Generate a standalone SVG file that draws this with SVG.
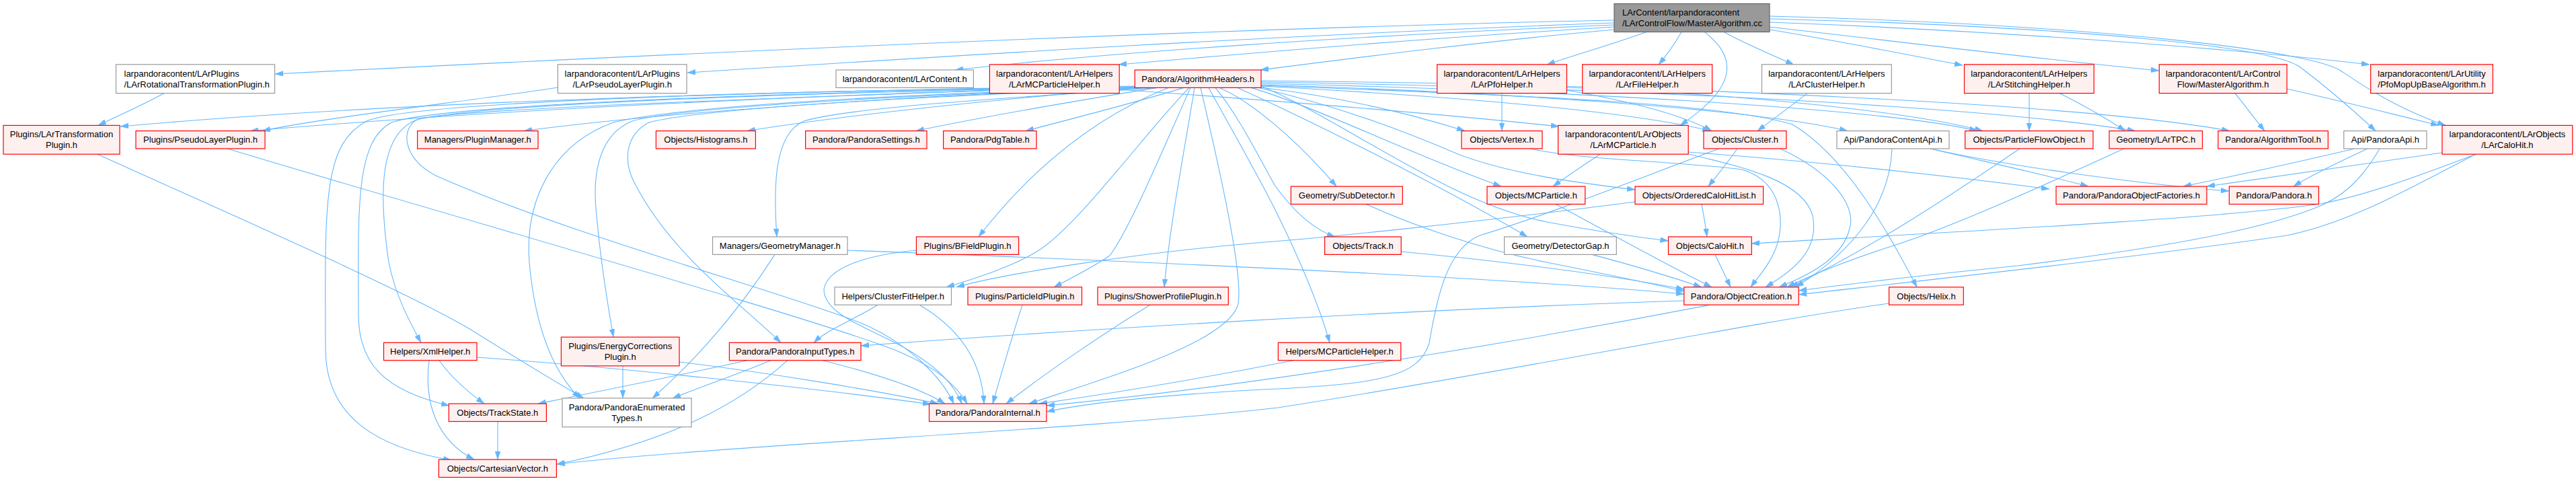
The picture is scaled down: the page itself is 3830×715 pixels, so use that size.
<svg xmlns="http://www.w3.org/2000/svg" width="3830" height="715" viewBox="0 0 3830 715">
<style>
text{font-family:"Liberation Sans",Arial,sans-serif;font-size:13px;fill:#000;text-anchor:middle}
text.l{text-anchor:start}
.r rect{fill:#fff0f0;stroke:#ff0000;stroke-width:1.2}
.g rect{fill:#ffffff;stroke:#999999;stroke-width:1.2}
.m rect{fill:#999999;stroke:#666666;stroke-width:1.2}
#edges path{fill:none;stroke:#63b8ff;stroke-width:1.1}
</style>
<defs>
<marker id="ah" viewBox="0 0 12 8" refX="12" refY="4" markerWidth="12" markerHeight="8" markerUnits="userSpaceOnUse" orient="auto"><path d="M0,0 L12,4 L0,8 z" fill="#63b8ff" stroke="#63b8ff" stroke-width="0.5"/></marker>
</defs>
<rect width="3830" height="715" fill="#ffffff"/>
<g id="edges" marker-end="url(#ah)">
<path d="M2400,30 C1800,42 1000,80 409,110"/>
<path d="M2400,34 C1900,52 1400,84 1022,108"/>
<path d="M2400,37 C2000,54 1650,78 1420,104"/>
<path d="M2400,40 C2100,58 1850,80 1663,96"/>
<path d="M2400,44 C2200,62 2000,88 1874,104"/>
<path d="M2448,47.4 C2400,65 2340,82 2300,96"/>
<path d="M2500,47.4 C2490,65 2478,82 2466,96"/>
<path d="M2563,47.4 C2595,65 2635,82 2667,96"/>
<path d="M2631,44 C2740,62 2840,82 2918,97"/>
<path d="M2631,40 C2850,65 3050,90 3210,105"/>
<path d="M2631,33 C2950,45 3300,70 3523,96"/>
<path d="M2631,28 C3100,40 3380,70 3420,100 C3460,130 3500,165 3532,194.6"/>
<path d="M2631,24 C3150,38 3440,78 3480,105 C3510,125 3560,160 3636,186.4"/>
<path d="M2534,47.4 C2590,90 2575,135 2498,186.4"/>
<path d="M244,138.6 C215,155 180,170 146,186.4"/>
<path d="M829.4,130 C700,150 480,175 390,194.6"/>
<path d="M1664,133 C1900,150 2150,170 2318,188"/>
<path d="M2233,138.6 L2233,194.6"/>
<path d="M2329.5,134 C2420,150 2500,170 2545,194.6"/>
<path d="M2329.5,130 C2600,140 2850,168 2948,194.6"/>
<path d="M2687,138.6 C2660,160 2635,178 2613,194.6"/>
<path d="M3017,138.6 L3017,194.6"/>
<path d="M3062,138.6 C3095,155 3130,175 3160,194.6"/>
<path d="M3323,138.6 C3338,157 3352,176 3367,194.6"/>
<path d="M3400,132 C3480,150 3560,170 3626,186.4"/>
<path d="M1471.4,134 C1100,148 700,162 625,176 C595,186 595,235 650,262 C850,350 1150,430 1280,480 C1350,510 1400,560 1418,600.1"/>
<path d="M1690,128 C1200,134 600,150 179,188"/>
<path d="M1692,129 C1300,138 800,158 372,194.6"/>
<path d="M1695,130 C1400,140 1000,165 779,194.6"/>
<path d="M1700,130.4 C1500,145 1250,172 1111,194.6"/>
<path d="M1720,130.4 C1600,150 1450,176 1362,194.6"/>
<path d="M1760,130.4 C1680,155 1580,180 1525,194.6"/>
<path d="M1700,129 C1100,138 700,158 620,178 C560,200 565,300 578,390 C588,440 610,480 626,509.3"/>
<path d="M1700,129 C1100,137 650,158 582,182 C530,210 532,300 533,470 C534,540 570,580 668,603"/>
<path d="M1700,129 C1000,136 600,156 545,180 C480,215 483,300 484,520 C485,620 560,665 671,684"/>
<path d="M1710,130 C1300,140 1000,160 912,182 C820,215 780,300 787,390 C795,480 820,550 862,592"/>
<path d="M1715,130 C1300,142 1000,162 940,180 C890,200 880,260 887,320 C893,390 903,450 912,501.1"/>
<path d="M1720,130 C1400,142 1050,160 965,182 C930,200 925,240 945,275 C1000,380 1100,450 1161,509.3"/>
<path d="M1730,130 C1500,145 1260,160 1195,180 C1150,200 1150,280 1155,352"/>
<path d="M1737,130.4 C1650,165 1550,230 1455,352"/>
<path d="M1768,130.4 C1700,200 1600,340 1540,375 C1500,398 1450,414 1407,426.8"/>
<path d="M1770,130.4 C1730,220 1680,340 1650,380 C1620,400 1590,415 1567,426.8"/>
<path d="M1776,130.4 C1760,230 1740,330 1731,426.8"/>
<path d="M1785,130.4 C1820,280 1850,420 1840,455 C1820,510 1650,560 1530,600.1"/>
<path d="M1797,130.4 C1830,190 1870,260 1895,310 C1930,380 1960,450 1977,509.3"/>
<path d="M1807,130.4 C1840,170 1870,230 1895,275 C1920,310 1950,340 1985,352"/>
<path d="M1813,130.4 C1860,150 1930,210 1987,277.1"/>
<path d="M1840,130.4 C1950,180 2150,280 2271,352"/>
<path d="M1860,130.4 C1960,160 2100,230 2232,277.1"/>
<path d="M1870,130 C2000,160 2100,200 2170,230 C2250,260 2350,272 2431,282"/>
<path d="M1875,128 C2000,180 2150,300 2300,330 C2380,345 2430,352 2480.5,358"/>
<path d="M1875,127 C2200,140 2550,150 2665,185 C2740,230 2800,330 2850,426.8"/>
<path d="M1875,130 C2000,145 2100,170 2178,194.6"/>
<path d="M1875,128 C2100,140 2400,160 2543,194.6"/>
<path d="M1875,126 C2200,136 2600,160 2747,194.6"/>
<path d="M1875,124 C2300,134 2800,160 2940,194.6"/>
<path d="M1875,122 C2400,130 2950,158 3175,194.6"/>
<path d="M1875,120 C2500,126 3100,155 3315,194.6"/>
<path d="M3501,221 C3420,240 3320,262 3246,277.1"/>
<path d="M3520,221 C3480,240 3440,258 3410,277.1"/>
<path d="M3538,221 C3510,270 3480,295 3440,310 C3350,345 3200,370 3000,395 C2850,410 2750,422 2674.3,432"/>
<path d="M3631,227 C3500,245 3380,262 3281,277.1"/>
<path d="M3681,229.2 C3600,260 3520,290 3450,303 C3300,325 2900,345 2604.3,362"/>
<path d="M3681,229.2 C3600,270 3500,330 3400,350 C3200,380 2850,418 2674.3,438"/>
<path d="M2870,221 C2950,240 3050,262 3105,277.1"/>
<path d="M2870,221 C3000,250 3200,275 3314,284"/>
<path d="M2813,221 C2810,300 2760,370 2670,426.8"/>
<path d="M3003,221 C2930,270 2800,360 2662,426.8"/>
<path d="M3158,221 C3050,270 2900,340 2800,370 C2740,390 2690,410 2657,426.8"/>
<path d="M2647,221 C2730,260 2760,310 2750,340 C2740,380 2700,405 2645,426.8"/>
<path d="M2583,221 C2570,240 2555,258 2540,277.1"/>
<path d="M2556,221 C2450,260 2300,320 2200,350 C2150,370 2135,450 2125,510 C2110,560 2050,570 1900,578 C1750,585 1620,598 1556,612"/>
<path d="M2431,300 C2200,330 1950,355 1880,360 C1700,375 1500,405 1422,426.8"/>
<path d="M2530,303.5 C2533,320 2536,336 2538,352"/>
<path d="M2379,229.2 C2355,245 2330,262 2309,277.1"/>
<path d="M2510,226 C2700,240 2900,262 3047,281"/>
<path d="M2510,229 C2600,250 2680,270 2695,320 C2705,370 2670,400 2625,426.8"/>
<path d="M2275,221 C2350,238 2500,240 2590,252 C2650,270 2655,330 2640,370 C2630,395 2615,410 2603,426.8"/>
<path d="M2313,303.5 C2400,350 2480,395 2545,426.8"/>
<path d="M2083,374 C2250,390 2400,410 2504,430"/>
<path d="M2031,303.5 C2100,335 2200,370 2300,390 C2400,410 2460,422 2504,433"/>
<path d="M2367,378.4 C2430,395 2480,410 2530,426.8"/>
<path d="M1260,372 C1600,385 2200,410 2504,437"/>
<path d="M2550,378.4 L2573,426.8"/>
<path d="M1152,378.4 C1100,460 1040,530 970,592"/>
<path d="M145,229.2 C300,300 600,430 700,490 C780,540 830,570 868,592"/>
<path d="M338,221 C700,330 1200,470 1330,520 C1390,545 1420,570 1438,600.1"/>
<path d="M653,535.7 C670,560 695,582 720,600.1"/>
<path d="M638,535.7 C630,600 650,655 705,683.1"/>
<path d="M709,531 C900,545 1200,575 1384,601"/>
<path d="M926,543.9 L926,591.9"/>
<path d="M1010,538 C1150,555 1300,580 1395,600.1"/>
<path d="M1111,535.7 C1000,560 900,580 800,600.1"/>
<path d="M1146,535.7 C1100,555 1050,572 1000,591.9"/>
<path d="M1171,535.7 C1100,600 1000,655 828,690"/>
<path d="M1223,535.7 C1300,555 1370,578 1405,600.1"/>
<path d="M1305,453.2 C1270,475 1230,490 1210,509.3"/>
<path d="M1367,453.2 C1430,490 1460,540 1463,600.1"/>
<path d="M1520,453.2 C1505,500 1490,550 1476,600.1"/>
<path d="M1710,453.2 C1650,490 1560,550 1496,600.1"/>
<path d="M1923,535.7 C1800,560 1650,585 1545,600.1"/>
<path d="M2503.8,447 C2100,460 1600,490 1280,514"/>
<path d="M2543,453.2 C2300,500 1900,570 1556,603"/>
<path d="M1362.4,372 C1280,380 1230,400 1225,430 C1225,470 1300,490 1350,520 C1400,550 1420,575 1430,600.1"/>
<path d="M2808.6,451 C2600,480 2200,560 1900,606 C1600,640 1100,660 827.4,690"/>
<path d="M740,626.5 L740,683.1"/>
</g>
<g id="n_main" class="m"><rect x="2400" y="5.5" width="231" height="42"/><text class="l" x="2412" y="23.3">LArContent/larpandoracontent</text><text class="l" x="2412" y="39.3">/LArControlFlow/MasterAlgorithm.cc</text></g>
<g id="n_rot" class="g"><rect x="172.5" y="95.8" width="236" height="42.8"/><text class="l" x="184.5" y="114">larpandoracontent/LArPlugins</text><text class="l" x="184.5" y="130">/LArRotationalTransformationPlugin.h</text></g>
<g id="n_lpl" class="g"><rect x="829.4" y="95.8" width="191.6" height="42.8"/><text x="925.2" y="114">larpandoracontent/LArPlugins</text><text x="925.2" y="130">/LArPseudoLayerPlugin.h</text></g>
<g id="n_lcont" class="g"><rect x="1243" y="104" width="204.4" height="26.4"/><text x="1345.2" y="121.8">larpandoracontent/LArContent.h</text></g>
<g id="n_lmch" class="r"><rect x="1471.4" y="95.8" width="192.8" height="42.8"/><text x="1567.8" y="114">larpandoracontent/LArHelpers</text><text x="1567.8" y="130">/LArMCParticleHelper.h</text></g>
<g id="n_alg" class="r"><rect x="1687.3" y="104" width="187.7" height="26.4"/><text x="1781.2" y="121.8">Pandora/AlgorithmHeaders.h</text></g>
<g id="n_pfoh" class="r"><rect x="2136.7" y="95.8" width="192.8" height="42.8"/><text x="2233.1" y="114">larpandoracontent/LArHelpers</text><text x="2233.1" y="130">/LArPfoHelper.h</text></g>
<g id="n_fileh" class="r"><rect x="2352.7" y="95.8" width="193" height="42.8"/><text x="2449.2" y="114">larpandoracontent/LArHelpers</text><text x="2449.2" y="130">/LArFileHelper.h</text></g>
<g id="n_clh" class="g"><rect x="2619.5" y="95.8" width="192.8" height="42.8"/><text x="2715.9" y="114">larpandoracontent/LArHelpers</text><text x="2715.9" y="130">/LArClusterHelper.h</text></g>
<g id="n_stit" class="r"><rect x="2920.5" y="95.8" width="192.8" height="42.8"/><text x="3016.9" y="114">larpandoracontent/LArHelpers</text><text x="3016.9" y="130">/LArStitchingHelper.h</text></g>
<g id="n_mah" class="r"><rect x="3210.3" y="95.8" width="189.9" height="42.8"/><text x="3305.2" y="114">larpandoracontent/LArControl</text><text x="3305.2" y="130">Flow/MasterAlgorithm.h</text></g>
<g id="n_pfomop" class="r"><rect x="3524.7" y="95.8" width="181.7" height="42.8"/><text x="3615.5" y="114">larpandoracontent/LArUtility</text><text x="3615.5" y="130">/PfoMopUpBaseAlgorithm.h</text></g>
<g id="n_ltp" class="r"><rect x="5" y="186.4" width="173" height="42.8"/><text x="91.5" y="204.4">Plugins/LArTransformation</text><text x="91.5" y="220.4">Plugin.h</text></g>
<g id="n_plp" class="r"><rect x="202" y="194.6" width="192" height="26.4"/><text x="298" y="212.4">Plugins/PseudoLayerPlugin.h</text></g>
<g id="n_pm" class="r"><rect x="620.6" y="194.6" width="179.4" height="26.4"/><text x="710.3" y="212.4">Managers/PluginManager.h</text></g>
<g id="n_hist" class="r"><rect x="975.4" y="194.6" width="148" height="26.4"/><text x="1049.4" y="212.4">Objects/Histograms.h</text></g>
<g id="n_pset" class="r"><rect x="1197.6" y="194.6" width="180.4" height="26.4"/><text x="1287.8" y="212.4">Pandora/PandoraSettings.h</text></g>
<g id="n_pdg" class="r"><rect x="1402.6" y="194.6" width="138.4" height="26.4"/><text x="1471.8" y="212.4">Pandora/PdgTable.h</text></g>
<g id="n_vtx" class="r"><rect x="2173" y="194.6" width="120" height="26.4"/><text x="2233" y="212.4">Objects/Vertex.h</text></g>
<g id="n_lmcp" class="r"><rect x="2316.6" y="186.4" width="193.6" height="42.8"/><text x="2413.4" y="204.4">larpandoracontent/LArObjects</text><text x="2413.4" y="220.4">/LArMCParticle.h</text></g>
<g id="n_clu" class="r"><rect x="2533" y="194.6" width="123" height="26.4"/><text x="2594.5" y="212.4">Objects/Cluster.h</text></g>
<g id="n_pca" class="g"><rect x="2731" y="194.6" width="167" height="26.4"/><text x="2814.5" y="212.4">Api/PandoraContentApi.h</text></g>
<g id="n_pfo" class="r"><rect x="2921.7" y="194.6" width="190.3" height="26.4"/><text x="3016.9" y="212.4">Objects/ParticleFlowObject.h</text></g>
<g id="n_tpc" class="r"><rect x="3136" y="194.6" width="138.5" height="26.4"/><text x="3205.3" y="212.4">Geometry/LArTPC.h</text></g>
<g id="n_atool" class="r"><rect x="3297.9" y="194.6" width="163.5" height="26.4"/><text x="3379.7" y="212.4">Pandora/AlgorithmTool.h</text></g>
<g id="n_papi" class="g"><rect x="3484.8" y="194.6" width="123.2" height="26.4"/><text x="3546.4" y="212.4">Api/PandoraApi.h</text></g>
<g id="n_lch" class="r"><rect x="3631" y="186.4" width="193.8" height="42.8"/><text x="3727.9" y="204.4">larpandoracontent/LArObjects</text><text x="3727.9" y="220.4">/LArCaloHit.h</text></g>
<g id="n_subd" class="r"><rect x="1919.4" y="277.1" width="165.9" height="26.4"/><text x="2002.4" y="294.9">Geometry/SubDetector.h</text></g>
<g id="n_mcp" class="r"><rect x="2211" y="277.1" width="145.8" height="26.4"/><text x="2283.9" y="294.9">Objects/MCParticle.h</text></g>
<g id="n_ochl" class="r"><rect x="2431" y="277.1" width="190.6" height="26.4"/><text x="2526.3" y="294.9">Objects/OrderedCaloHitList.h</text></g>
<g id="n_pof" class="r"><rect x="3057" y="277.1" width="224" height="26.4"/><text x="3169" y="294.9">Pandora/PandoraObjectFactories.h</text></g>
<g id="n_pan" class="r"><rect x="3314.4" y="277.1" width="133.1" height="26.4"/><text x="3381" y="294.9">Pandora/Pandora.h</text></g>
<g id="n_gm" class="g"><rect x="1059.5" y="352" width="200.5" height="26.4"/><text x="1159.8" y="369.8">Managers/GeometryManager.h</text></g>
<g id="n_bf" class="r"><rect x="1362.4" y="352" width="152.2" height="26.4"/><text x="1438.5" y="369.8">Plugins/BFieldPlugin.h</text></g>
<g id="n_trk" class="r"><rect x="1969.6" y="352" width="113.6" height="26.4"/><text x="2026.4" y="369.8">Objects/Track.h</text></g>
<g id="n_dg" class="g"><rect x="2236.6" y="352" width="166.7" height="26.4"/><text x="2320" y="369.8">Geometry/DetectorGap.h</text></g>
<g id="n_ch" class="r"><rect x="2480.5" y="352" width="123.8" height="26.4"/><text x="2542.4" y="369.8">Objects/CaloHit.h</text></g>
<g id="n_cfh" class="g"><rect x="1241" y="426.8" width="173.5" height="26.4"/><text x="1327.7" y="444.6">Helpers/ClusterFitHelper.h</text></g>
<g id="n_pid" class="r"><rect x="1439" y="426.8" width="169.5" height="26.4"/><text x="1523.7" y="444.6">Plugins/ParticleIdPlugin.h</text></g>
<g id="n_spp" class="r"><rect x="1632" y="426.8" width="194.3" height="26.4"/><text x="1729.1" y="444.6">Plugins/ShowerProfilePlugin.h</text></g>
<g id="n_oc" class="r"><rect x="2503.8" y="426.8" width="170.5" height="26.4"/><text x="2589" y="444.6">Pandora/ObjectCreation.h</text></g>
<g id="n_hel" class="r"><rect x="2808.6" y="426.8" width="110.7" height="26.4"/><text x="2864" y="444.6">Objects/Helix.h</text></g>
<g id="n_xml" class="r"><rect x="570.5" y="509.3" width="138.5" height="26.4"/><text x="639.7" y="527.1">Helpers/XmlHelper.h</text></g>
<g id="n_ecp" class="r"><rect x="834.4" y="501.1" width="175.6" height="42.8"/><text x="922.2" y="519.1">Plugins/EnergyCorrections</text><text x="922.2" y="535.1">Plugin.h</text></g>
<g id="n_pit" class="r"><rect x="1084.4" y="509.3" width="195.6" height="26.4"/><text x="1182.2" y="527.1">Pandora/PandoraInputTypes.h</text></g>
<g id="n_mcph" class="r"><rect x="1900.4" y="509.3" width="182.4" height="26.4"/><text x="1991.6" y="527.1">Helpers/MCParticleHelper.h</text></g>
<g id="n_ts" class="r"><rect x="667.3" y="600.1" width="145.1" height="26.4"/><text x="739.8" y="617.9">Objects/TrackState.h</text></g>
<g id="n_pet" class="g"><rect x="836" y="591.9" width="192" height="42.8"/><text x="932" y="609.9">Pandora/PandoraEnumerated</text><text x="932" y="625.9">Types.h</text></g>
<g id="n_pint" class="r"><rect x="1381.5" y="600.1" width="174.5" height="26.4"/><text x="1468.7" y="617.9">Pandora/PandoraInternal.h</text></g>
<g id="n_cv" class="r"><rect x="652.4" y="683.1" width="175" height="26.4"/><text x="739.9" y="700.9">Objects/CartesianVector.h</text></g>
</svg>
